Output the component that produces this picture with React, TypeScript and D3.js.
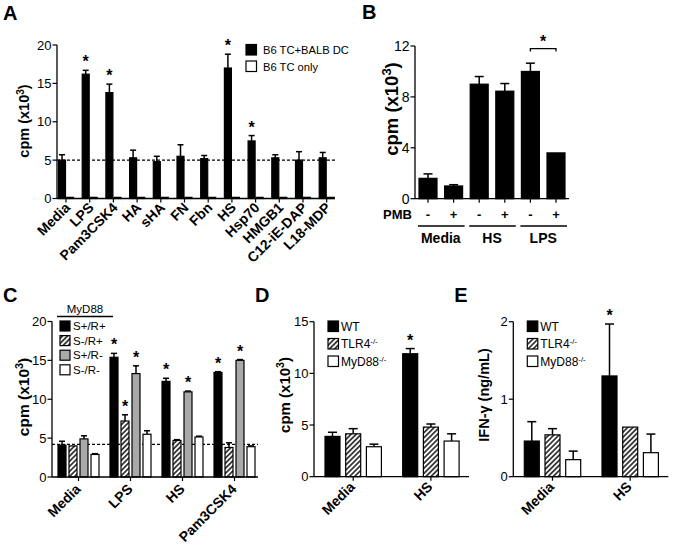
import React from 'react';
import * as d3 from 'd3';

const FONT = '"Liberation Sans", Arial, Helvetica, sans-serif';

// ---------- Panel A ----------
const catsA = ['Media', 'LPS', 'Pam3CSK4', 'HA', 'sHA', 'FN', 'Fbn', 'HS', 'Hsp70', 'HMGB1', 'C12-iE-DAP', 'L18-MDP'];
const aCoMean = [5.0, 16.2, 13.8, 5.3, 4.8, 5.5, 5.2, 17.0, 7.5, 5.3, 5.0, 5.3];
const aCoSem = [0.7, 0.5, 1.1, 1.0, 0.7, 1.5, 0.4, 1.8, 0.7, 0.4, 1.1, 0.7];
const aTcOnly = [0.15, 0.15, 0.15, 0.15, 0.15, 0.15, 0.15, 0.15, 0.15, 0.15, 0.15, 0.15];
const aSig = [false, true, true, false, false, false, false, true, true, false, false, false];
const aTicks = [0, 5, 10, 15, 20];
const aBaseline = 5;
const aLegend = ['B6 TC+BALB DC', 'B6 TC only'];

// ---------- Panel B ----------
const bGroups = ['Media', 'HS', 'LPS'];
const bPmb = ['-', '+', '-', '+', '-', '+'];
const bMean = [1.6, 1.0, 9.0, 8.45, 10.0, 3.6];
const bSem = [0.35, 0.1, 0.6, 0.6, 0.65, 0];
const bTicks = [0, 4, 8, 12];

// ---------- Panel C ----------
const catsC = ['Media', 'LPS', 'HS', 'Pam3CSK4'];
const seriesC = ['S+/R+', 'S-/R+', 'S+/R-', 'S-/R-'];
const cBlack = [4.1, 15.4, 12.3, 13.45];
const cBlackSem = [0.5, 0.5, 0.4, 0.1];
const cHatch = [4.0, 7.2, 4.7, 3.8];
const cHatchSem = [0, 0.8, 0.1, 0.6];
const cGrey = [4.9, 13.3, 10.95, 15.0];
const cGreySem = [0.4, 1.0, 0.1, 0.1];
const cWhite = [2.9, 5.5, 5.15, 3.9];
const cWhiteSem = [0.1, 0.45, 0.1, 0.1];
const cBlackSig = [false, true, true, true];
const cHatchSig = [false, true, false, false];
const cGreySig = [false, true, true, true];
const cTicks = [0, 5, 10, 15, 20];
const cBaseline = 4.2;

// ---------- Panels D & E ----------
const catsDE = ['Media', 'HS'];
const seriesDE = ['WT', 'TLR4', 'MyD88'];
const dWT = [3.9, 11.9];
const dWTSem = [0.4, 0.5];
const dTLR4 = [4.15, 4.8];
const dTLR4Sem = [0.5, 0.3];
const dMyD = [2.9, 3.45];
const dMyDSem = [0.25, 0.7];
const dTicks = [0, 5, 10, 15];
const eWT = [0.46, 1.3];
const eWTSem = [0.25, 0.67];
const eTLR4 = [0.54, 0.64];
const eTLR4Sem = [0.08, 0];
const eMyD = [0.22, 0.31];
const eMyDSem = [0.11, 0.24];
const eTicks = [0, 1, 2];

const GREY = '#a9a9a9';

function YAxis({ y, x, ticks, fs }: any) {
  const [r0, r1] = y.range();
  return (
    <g>
      <line x1={x} x2={x} y1={r0} y2={r1} stroke="#000" strokeWidth={1.3} />
      {ticks.map((t: number) => (
        <g key={t}>
          <line x1={x - 4.5} x2={x} y1={y(t)} y2={y(t)} stroke="#000" strokeWidth={1.2} />
          <text x={x - 5.5} y={y(t)} dy="0.36em" textAnchor="end" fontSize={fs}>{t}</text>
        </g>
      ))}
    </g>
  );
}

function XAxis({ y0, x0, x1, ticksAt }: any) {
  return (
    <g>
      <line x1={x0} x2={x1} y1={y0} y2={y0} stroke="#000" strokeWidth={1.3} />
      {ticksAt.map((t: number, i: number) => (
        <line key={i} x1={t} x2={t} y1={y0} y2={y0 + 4} stroke="#000" strokeWidth={1.2} />
      ))}
    </g>
  );
}

function Bar({ x, w, y, v, sem, fill, cap, sig }: any) {
  const top = y(v);
  const base = y(0);
  const cx = x + w / 2;
  const et = y(v + (sem || 0));
  return (
    <g>
      {sem > 0 && (
        <g stroke="#000" strokeWidth={1.5}>
          <line x1={cx} x2={cx} y1={top} y2={et} />
          <line x1={cx - cap / 2} x2={cx + cap / 2} y1={et} y2={et} />
        </g>
      )}
      <rect x={x} y={top} width={w} height={Math.max(base - top, 0.5)} fill={fill} stroke="#000" strokeWidth={1.2} />
      {sig && (
        <text x={cx} y={et - 3} textAnchor="middle" fontSize={16} fontWeight="bold">*</text>
      )}
    </g>
  );
}

function YLabel({ x, y, fs, children }: any) {
  return (
    <text transform={`translate(${x},${y}) rotate(-90)`} textAnchor="middle" fontSize={fs} fontWeight="bold">
      {children}
    </text>
  );
}

const Cpm = () => (
  <>
    cpm (x10<tspan baselineShift="super" fontSize="70%">3</tspan>)
  </>
);

function RotLabel({ x, y, fs, text }: any) {
  return (
    <text transform={`translate(${x},${y}) rotate(-45)`} textAnchor="end" fontSize={fs} fontWeight="bold">
      {text}
    </text>
  );
}

function PanelA() {
  const y = d3.scaleLinear().domain([0, 20]).range([198.5, 45]);
  const x = d3.scaleBand().domain(catsA).range([56, 340.4]);
  const axisY = y(0);
  return (
    <g>
      <text x={3} y={20} fontSize={20} fontWeight="bold">A</text>
      <YLabel x={29} y={121} fs={14.5}><Cpm /></YLabel>
      <line x1={57} x2={335} y1={y(aBaseline)} y2={y(aBaseline)} stroke="#000" strokeWidth={1.2} strokeDasharray="3,2" />
      {catsA.map((c, i) => (
        <g key={c}>
          <Bar x={x(c)! + 2.5} w={7} y={y} v={aCoMean[i]} sem={aCoSem[i]} fill="#000" cap={6} sig={aSig[i]} />
          <Bar x={x(c)! + 10.5} w={7} y={y} v={aTcOnly[i]} sem={0} fill="#fff" cap={6} />
        </g>
      ))}
      <YAxis y={y} x={57} ticks={aTicks} fs={13} />
      <XAxis y0={axisY} x0={57} x1={335} ticksAt={catsA.map((c) => x(c)! + 10)} />
      {catsA.map((c) => (
        <RotLabel key={c} x={x(c)! + 15} y={axisY + 10} fs={14} text={c} />
      ))}
      {aLegend.map((l, i) => (
        <g key={l}>
          <rect x={246} y={44.5 + i * 16.5} width={10.5} height={10.5} fill={i === 0 ? '#000' : '#fff'} stroke="#000" strokeWidth={1.2} />
          <text x={263} y={50 + i * 16.5} dy="0.36em" fontSize={11.2}>{l}</text>
        </g>
      ))}
    </g>
  );
}

function PanelB() {
  const y = d3.scaleLinear().domain([0, 12]).range([198.7, 46]);
  const idx = bMean.map((_, i) => String(i));
  const x = d3.scaleBand().domain(idx).range([415.2, 568.8]);
  const bw = 18;
  const axisY = y(0);
  const centers = idx.map((k) => x(k)! + x.bandwidth() / 2);
  return (
    <g>
      <text x={362} y={19} fontSize={20} fontWeight="bold">B</text>
      <YLabel x={398} y={109} fs={18.5}><Cpm /></YLabel>
      {idx.map((k, i) => (
        <Bar key={k} x={centers[i] - bw / 2} w={bw} y={y} v={bMean[i]} sem={bSem[i]} fill="#000" cap={9} />
      ))}
      <YAxis y={y} x={415} ticks={bTicks} fs={14} />
      <XAxis y0={axisY} x0={415} x1={569} ticksAt={centers} />
      <text x={412} y={218.5} textAnchor="end" fontSize={13} fontWeight="bold">PMB</text>
      {bPmb.map((p, i) => (
        <text key={i} x={centers[i]} y={218.5} textAnchor="middle" fontSize={13} fontWeight="bold">{p}</text>
      ))}
      {bGroups.map((g, gi) => (
        <g key={g}>
          <line x1={centers[gi * 2] - 10} x2={centers[gi * 2 + 1] + 11} y1={226} y2={226} stroke="#000" strokeWidth={1.3} />
          <text x={(centers[gi * 2] + centers[gi * 2 + 1]) / 2} y={243} textAnchor="middle" fontSize={14} fontWeight="bold">{g}</text>
        </g>
      ))}
      {/* significance bracket between LPS - and + */}
      <path d={`M${centers[4]},${y(11.8) + 3} V${y(11.8)} H${centers[5]} V${y(11.8) + 3}`} fill="none" stroke="#000" strokeWidth={1.3} />
      <text x={(centers[4] + centers[5]) / 2} y={y(11.8) - 2} textAnchor="middle" fontSize={16} fontWeight="bold">*</text>
    </g>
  );
}

function PanelC() {
  const y = d3.scaleLinear().domain([0, 20]).range([477, 321.5]);
  const x = d3.scaleBand().domain(catsC).range([52.5, 260.5]);
  const axisY = y(0);
  const fills = ['#000', 'url(#hatch)', GREY, '#fff'];
  const vals = [cBlack, cHatch, cGrey, cWhite];
  const sems = [cBlackSem, cHatchSem, cGreySem, cWhiteSem];
  const sigs = [cBlackSig, cHatchSig, cGreySig, [false, false, false, false]];
  return (
    <g>
      <text x={3} y={302} fontSize={20} fontWeight="bold">C</text>
      <YLabel x={29} y={397} fs={15.5}><Cpm /></YLabel>
      <line x1={52} x2={258} y1={y(cBaseline)} y2={y(cBaseline)} stroke="#000" strokeWidth={1.2} strokeDasharray="3,2" />
      {catsC.map((c, ci) => (
        <g key={c}>
          {seriesC.map((s, si) => (
            <Bar key={s} x={x(c)! + 5.5 + 11 * si} w={8} y={y} v={vals[si][ci]} sem={sems[si][ci]} fill={fills[si]} cap={6} sig={sigs[si][ci]} />
          ))}
        </g>
      ))}
      <YAxis y={y} x={52} ticks={cTicks} fs={13} />
      <XAxis y0={axisY} x0={52} x1={258} ticksAt={catsC.map((c) => x(c)! + x.bandwidth() / 2)} />
      {catsC.map((c) => (
        <RotLabel key={c} x={x(c)! + x.bandwidth() / 2 + 3} y={axisY + 13} fs={14} text={c} />
      ))}
      <text x={85} y={313} textAnchor="middle" fontSize={11.5}>MyD88</text>
      <line x1={57} x2={113} y1={316.5} y2={316.5} stroke="#000" strokeWidth={1.3} />
      {seriesC.map((s, i) => (
        <g key={s}>
          <rect x={60} y={321 + i * 14.6} width={10} height={10} fill={fills[i]} stroke="#000" strokeWidth={1.2} />
          <text x={73} y={326 + i * 14.6} dy="0.36em" fontSize={11.5}>{s}</text>
        </g>
      ))}
    </g>
  );
}

function PanelDE({ letter, x0, domainMax, ticks, vals, sems, sigs, label, labelFs }: any) {
  const y = d3.scaleLinear().domain([0, domainMax]).range([476.7, 321.7]);
  const x = d3.scaleBand().domain(catsDE).range([x0, x0 + 155.4]);
  const axisY = y(0);
  const fills = ['#000', 'url(#hatch)', '#fff'];
  return (
    <g>
      <text x={x0 - 59} y={302} fontSize={20} fontWeight="bold">{letter}</text>
      <YLabel x={x0 - 24} y={395} fs={labelFs}>{label}</YLabel>
      {catsDE.map((c, ci) => (
        <g key={c}>
          {seriesDE.map((s, si) => (
            <Bar key={s} x={x(c)! + 11 + 20.7 * si} w={15} y={y} v={vals[si][ci]} sem={sems[si][ci]} fill={fills[si]} cap={9} sig={sigs[si][ci]} />
          ))}
        </g>
      ))}
      <YAxis y={y} x={x0} ticks={ticks} fs={13} />
      <XAxis y0={axisY} x0={x0} x1={x0 + 155} ticksAt={catsDE.map((c) => x(c)! + 11 + 20.7 + 7.5)} />
      {catsDE.map((c) => (
        <RotLabel key={c} x={x(c)! + 11 + 20.7 + 7.5 + 2.5} y={axisY + 11} fs={14} text={c} />
      ))}
      {seriesDE.map((s, i) => (
        <g key={s}>
          <rect x={x0 + 14} y={321 + i * 17.5} width={10.5} height={10.5} fill={fills[i]} stroke="#000" strokeWidth={1.2} />
          <text x={x0 + 27} y={326.3 + i * 17.5} dy="0.36em" fontSize={12}>
            {s}
            {i > 0 && <tspan baselineShift="super" fontSize="65%">-/-</tspan>}
          </text>
        </g>
      ))}
    </g>
  );
}

export default function App() {
  return (
    <svg width={675} height={551} style={{ position: 'absolute', left: 0, top: 0, background: '#fff' }} fontFamily={FONT}>
      <defs>
        <pattern id="hatch" patternUnits="userSpaceOnUse" width={3.6} height={3.6} patternTransform="rotate(45)">
          <rect width={3.6} height={3.6} fill="#fff" />
          <line x1={0.9} y1={0} x2={0.9} y2={3.6} stroke="#000" strokeWidth={1.4} />
        </pattern>
      </defs>
      <rect width={675} height={551} fill="#fff" />
      <PanelA />
      <PanelB />
      <PanelC />
      <PanelDE
        letter="D"
        x0={314}
        domainMax={15}
        ticks={dTicks}
        vals={[dWT, dTLR4, dMyD]}
        sems={[dWTSem, dTLR4Sem, dMyDSem]}
        sigs={[[false, true], [false, false], [false, false]]}
        label={<Cpm />}
        labelFs={15}
      />
      <PanelDE
        letter="E"
        x0={513.3}
        domainMax={2}
        ticks={eTicks}
        vals={[eWT, eTLR4, eMyD]}
        sems={[eWTSem, eTLR4Sem, eMyDSem]}
        sigs={[[false, true], [false, false], [false, false]]}
        label="IFN-γ (ng/mL)"
        labelFs={14.5}
      />
    </svg>
  );
}
